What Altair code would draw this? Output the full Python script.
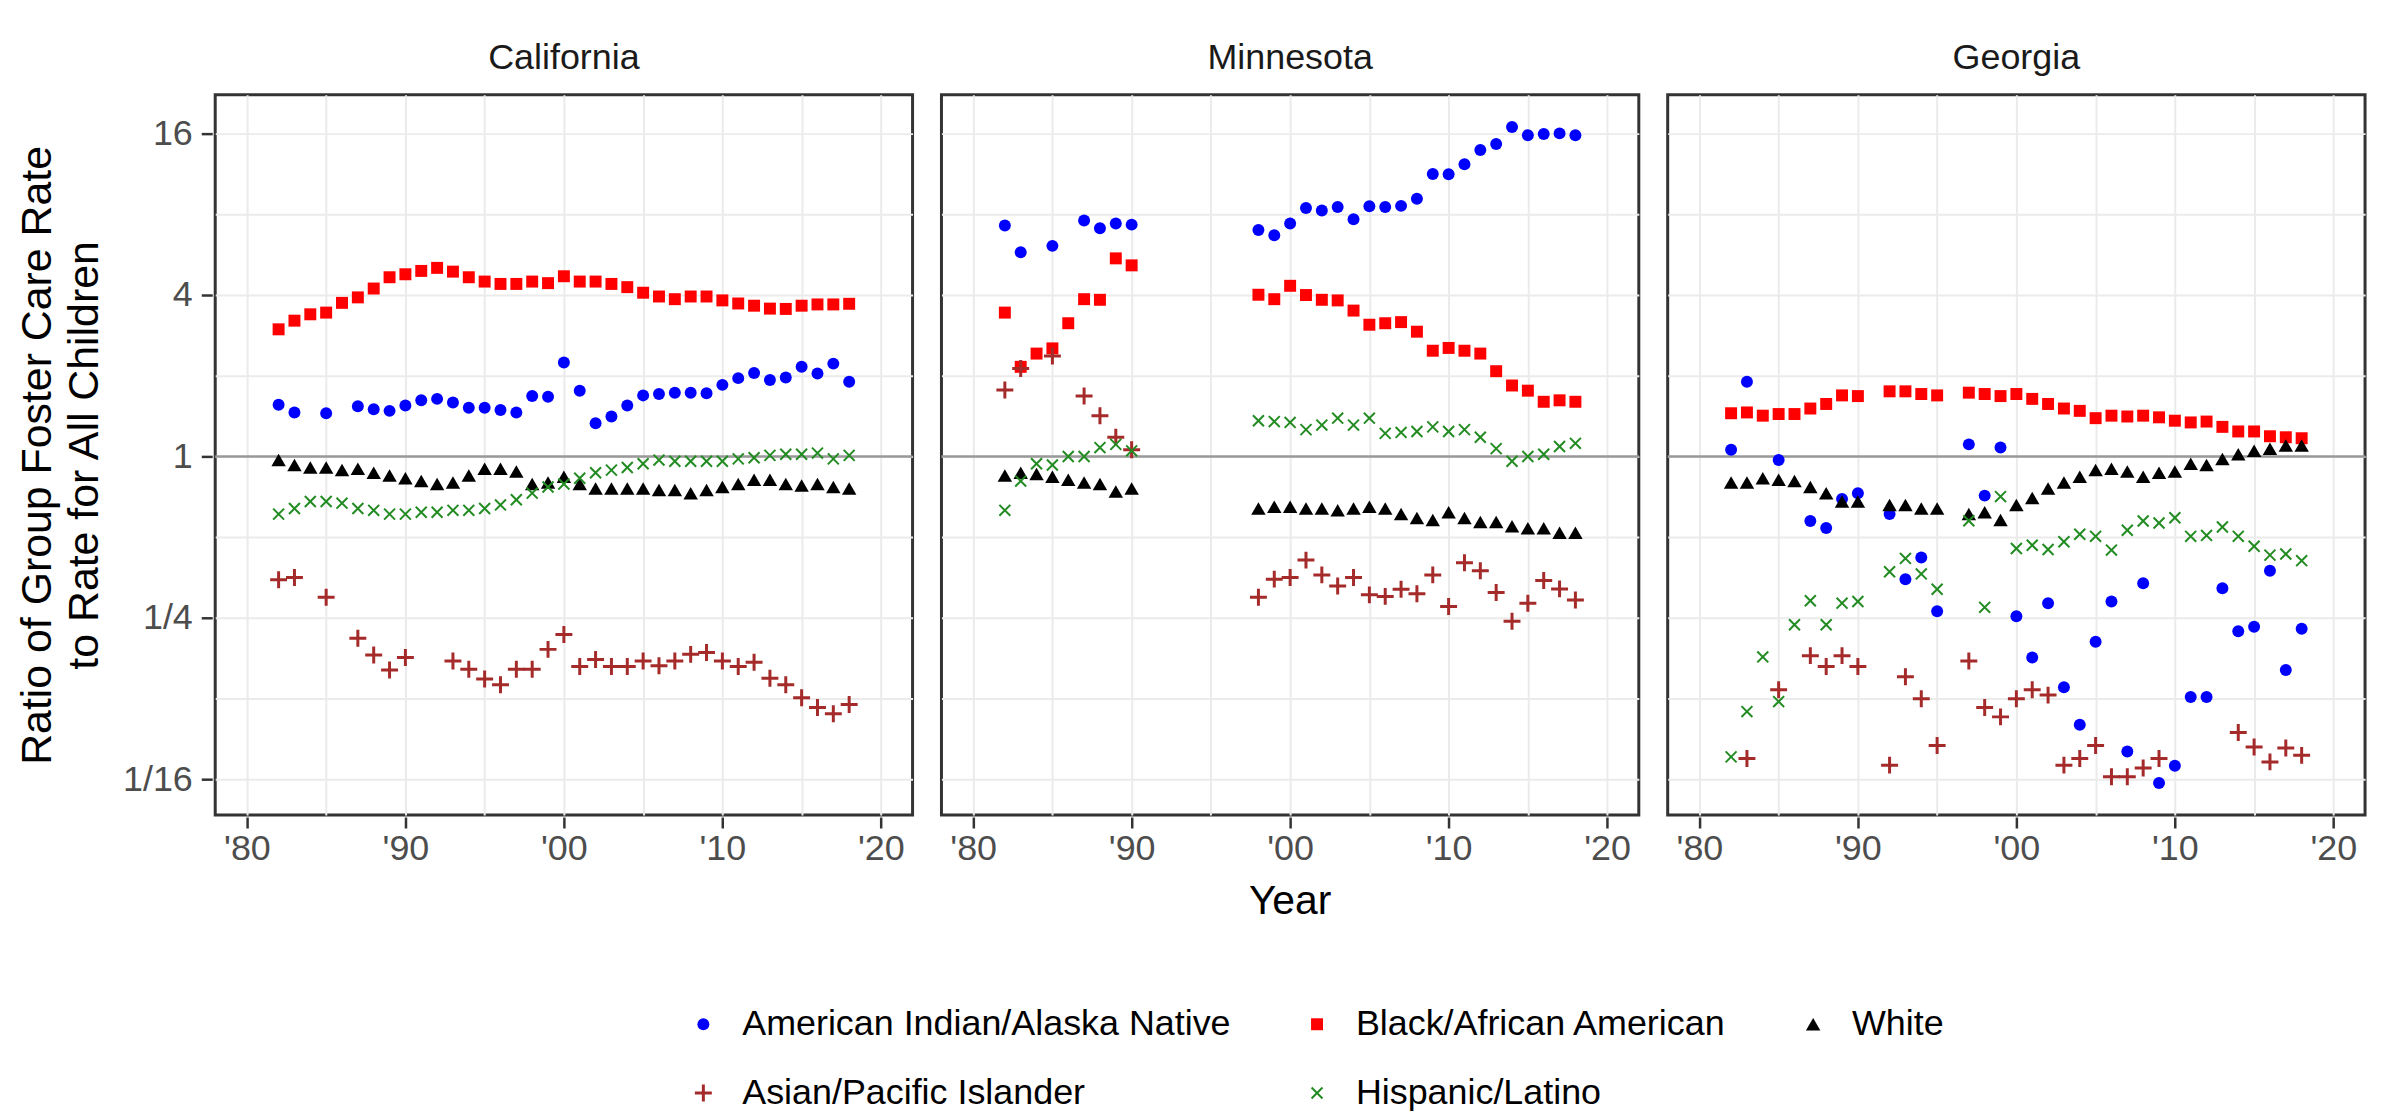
import altair as alt
import pandas as pd

N = None
YEARS = list(range(1982, 2019))
STATES = ["California", "Minnesota", "Georgia"]
GROUPS = ["American Indian/Alaska Native", "Black/African American", "White",
          "Asian/Pacific Islander", "Hispanic/Latino"]
COLORS = ["#0000FF", "#FF0000", "#000000", "#A52A2A", "#228B22"]

# ---- California (1982-2018) ----
CA_AIAN = [1.56, 1.46, N, 1.45, N, 1.54, 1.50, 1.48, 1.55, 1.62, 1.64, 1.59, 1.52, 1.52, 1.49, 1.46, 1.68, 1.67,
           2.24, 1.76, 1.33, 1.41, 1.55, 1.69, 1.71, 1.73, 1.73, 1.72, 1.85, 1.96, 2.05, 1.93, 1.97, 2.16, 2.04, 2.22, 1.90]
CA_BLACK = [2.98, 3.21, 3.39, 3.44, 3.74, 3.92, 4.23, 4.66, 4.78, 4.92, 5.05, 4.89, 4.66, 4.49, 4.40, 4.40, 4.49, 4.43,
            4.70, 4.49, 4.49, 4.40, 4.28, 4.08, 3.95, 3.86, 3.95, 3.95, 3.82, 3.72, 3.65, 3.56, 3.55, 3.65, 3.69, 3.69, 3.71]
CA_WHITE = [0.97, 0.93, 0.91, 0.91, 0.89, 0.90, 0.87, 0.85, 0.83, 0.81, 0.79, 0.80, 0.85, 0.90, 0.90, 0.88, 0.79, 0.80,
            0.84, 0.79, 0.76, 0.76, 0.76, 0.76, 0.75, 0.75, 0.73, 0.75, 0.77, 0.79, 0.82, 0.82, 0.79, 0.78, 0.79, 0.77, 0.76]
CA_ASIAN = [0.347, 0.354, N, 0.299, N, 0.210, 0.182, 0.160, 0.178, N, N, 0.173, 0.161, 0.148, 0.141, 0.161, 0.161, 0.191,
            0.217, 0.165, 0.175, 0.165, 0.165, 0.173, 0.166, 0.173, 0.183, 0.186, 0.173, 0.165, 0.171, 0.149, 0.141,
            0.126, 0.116, 0.110, 0.119]
CA_HISP = [0.61, 0.64, 0.68, 0.68, 0.67, 0.64, 0.63, 0.61, 0.61, 0.62, 0.62, 0.63, 0.63, 0.64, 0.66, 0.69, 0.73, 0.77,
           0.79, 0.83, 0.87, 0.89, 0.91, 0.94, 0.97, 0.96, 0.96, 0.96, 0.96, 0.98, 0.99, 1.01, 1.02, 1.02, 1.03, 0.98, 1.01]

# ---- Minnesota ----
GAP7 = [N] * 7
MN_AIAN = [7.27, 5.77, N, 6.10, N, 7.59, 7.10, 7.39, 7.32] + GAP7 + \
          [6.99, 6.68, 7.39, 8.45, 8.27, 8.52, 7.66, 8.57, 8.52, 8.60, 9.14, 11.3, 11.28, 12.29, 13.88, 14.62,
           16.93, 15.78, 15.93, 16.02, 15.78]
MN_BLACK = [3.44, 2.16, 2.42, 2.53, 3.14, 3.86, 3.84, 5.48, 5.16] + GAP7 + \
           [4.01, 3.86, 4.33, 4.00, 3.84, 3.82, 3.50, 3.10, 3.14, 3.17, 2.92, 2.48, 2.54, 2.48, 2.42, 2.08,
            1.84, 1.76, 1.60, 1.62, 1.60]
MN_WHITE = [0.85, 0.87, 0.86, 0.84, 0.82, 0.80, 0.79, 0.74, 0.76] + GAP7 + \
           [0.64, 0.65, 0.65, 0.64, 0.64, 0.63, 0.64, 0.65, 0.64, 0.61, 0.59, 0.58, 0.62, 0.59, 0.57, 0.57,
            0.55, 0.54, 0.54, 0.52, 0.52]
MN_ASIAN = [1.77, 2.13, N, 2.37, N, 1.68, 1.42, 1.18, 1.06] + GAP7 + \
           [0.299, 0.349, 0.354, 0.411, 0.362, 0.329, 0.354, 0.305, 0.301, 0.320, 0.308, 0.362, 0.276, 0.402,
            0.375, 0.311, 0.243, 0.284, 0.345, 0.321, 0.292]
MN_HISP = [0.63, 0.81, 0.94, 0.93, 1.00, 1.00, 1.08, 1.11, 1.05] + GAP7 + \
          [1.36, 1.35, 1.34, 1.26, 1.31, 1.39, 1.31, 1.39, 1.22, 1.23, 1.24, 1.29, 1.24, 1.26, 1.18, 1.07,
           0.96, 1.00, 1.02, 1.09, 1.12]

# ---- Georgia ----
GA_AIAN = [1.06, 1.90, N, 0.97, N, 0.575, 0.541, 0.695, 0.73, N, 0.61, 0.349, 0.420, 0.265, N, 1.11, 0.715, 1.08,
           0.254, 0.178, 0.284, 0.138, 0.100, 0.204, 0.288, 0.0795, 0.337, 0.0607, 0.0703, 0.127, 0.127, 0.323,
           0.223, 0.232, 0.375, 0.160, 0.228]
GA_BLACK = [1.45, 1.46, 1.42, 1.44, 1.44, 1.51, 1.57, 1.69, 1.68, N, 1.75, 1.75, 1.71, 1.69, N, 1.73, 1.71, 1.68,
            1.71, 1.64, 1.57, 1.51, 1.48, 1.39, 1.42, 1.41, 1.42, 1.40, 1.36, 1.34, 1.35, 1.29, 1.24, 1.24, 1.19,
            1.18, 1.17]
GA_WHITE = [0.80, 0.80, 0.83, 0.82, 0.81, 0.77, 0.73, 0.68, 0.68, N, 0.66, 0.66, 0.64, 0.64, N, 0.61, 0.62, 0.58,
            0.66, 0.70, 0.76, 0.80, 0.84, 0.89, 0.90, 0.88, 0.84, 0.87, 0.88, 0.94, 0.93, 0.98, 1.02, 1.05, 1.07,
            1.10, 1.10]
GA_ASIAN = [N, 0.0748, N, 0.135, N, 0.181, 0.165, 0.181, 0.165, N, 0.0707, 0.151, 0.125, 0.0837, N, 0.173, 0.116,
            0.107, 0.125, 0.135, 0.129, 0.0707, 0.0748, 0.0837, 0.0640, 0.0640, 0.0690, 0.0748, N, N, N, N,
            0.0935, 0.0826, 0.0727, 0.0819, 0.0769]
GA_HISP = [0.0759, 0.112, 0.179, 0.122, 0.236, 0.290, 0.236, 0.284, 0.288, N, 0.372, 0.417, 0.365, 0.320, N, 0.576,
           0.274, 0.709, 0.454, 0.467, 0.450, 0.481, 0.513, 0.504, 0.448, 0.531, 0.575, 0.565, 0.591, 0.504, 0.508,
           0.546, 0.504, 0.463, 0.429, 0.433, 0.409]

SERIES = {
    "California": [CA_AIAN, CA_BLACK, CA_WHITE, CA_ASIAN, CA_HISP],
    "Minnesota": [MN_AIAN, MN_BLACK, MN_WHITE, MN_ASIAN, MN_HISP],
    "Georgia": [GA_AIAN, GA_BLACK, GA_WHITE, GA_ASIAN, GA_HISP],
}

rows = []
for state in STATES:
    for group, vals in zip(GROUPS, SERIES[state]):
        for yr, v in zip(YEARS, vals):
            if v is not None:
                rows.append({"state": state, "group": group, "year": yr, "ratio": v})
df = pd.DataFrame(rows)

PLUS = "M-1,0L1,0M0,-1L0,1"
CROSS = "M-1,-1L1,1M1,-1L-1,1"
SHAPES = ["circle", "square", "triangle-up", PLUS, CROSS]
SIZES = [144, 144, 210, 289, 121]
STROKEW = [0, 0, 0, 3, 2]

FONT = "Liberation Sans"
X_TICKS = list(range(1980, 2021, 5))
Y_TICKS = [0.0625, 0.125, 0.25, 0.5, 1, 2, 4, 8, 16]
Y_MAJOR = "datum.value == 16 || datum.value == 4 || datum.value == 1 || datum.value == 0.25 || datum.value == 0.0625"

legend = alt.Legend(title=None, orient="none", legendX=472, legendY=915, direction="horizontal",
                    columns=3, labelFontSize=36, labelFont=FONT, labelColor="black", labelLimit=0,
                    labelOffset=21, columnPadding=68, rowPadding=33)

x_axis = alt.Axis(values=X_TICKS, title=None, grid=True, domain=False,
                  labelExpr="datum.value % 10 == 0 ? \"'\" + format(datum.value % 100, '02d') : ''",
                  tickOpacity={"condition": {"test": "datum.value % 10 == 0", "value": 1}, "value": 0},
                  labelOverlap=False, labelFlush=False, labelPadding=4)
y_axis = alt.Axis(values=Y_TICKS, grid=True, domain=False,
                  title=["Ratio of Group Foster Care Rate", "to Rate for All Children"],
                  titleFontSize=43, titleFontWeight="normal", titleColor="black", titleFont=FONT,
                  titleLineHeight=47, titlePadding=16,
                  labelExpr="datum.value == 16 ? '16' : datum.value == 4 ? '4' : datum.value == 1 ? '1' : "
                            "datum.value == 0.25 ? '1/4' : datum.value == 0.0625 ? '1/16' : ''",
                  tickOpacity={"condition": {"test": Y_MAJOR, "value": 1}, "value": 0},
                  labelOverlap=False, labelFlush=False, labelPadding=9)

base = alt.Chart(df)

ref = base.transform_filter(
    "datum.year == 2018 && datum.group == 'White'"
).mark_rule(color="#999999", strokeWidth=2.5).encode(y=alt.datum(1))

points = base.mark_point(filled=True, opacity=1).encode(
    x=alt.X("year:Q", scale=alt.Scale(domain=[1978, 2022], nice=False, zero=False), axis=x_axis),
    y=alt.Y("ratio:Q", scale=alt.Scale(type="log", base=2, domain=[2 ** -4.44, 2 ** 4.48], nice=False),
            axis=y_axis),
    color=alt.Color("group:N", scale=alt.Scale(domain=GROUPS, range=COLORS), legend=legend),
    stroke=alt.Stroke("group:N", scale=alt.Scale(domain=GROUPS, range=COLORS), legend=legend),
    shape=alt.Shape("group:N", scale=alt.Scale(domain=GROUPS, range=SHAPES), legend=legend),
    size=alt.Size("group:N", scale=alt.Scale(type="ordinal", domain=GROUPS, range=SIZES), legend=legend),
    strokeWidth=alt.StrokeWidth("group:N", scale=alt.Scale(type="ordinal", domain=GROUPS, range=STROKEW),
                                legend=legend),
)

chart = alt.layer(ref, points).properties(width=700, height=723).facet(
    column=alt.Column("state:N", sort=STATES,
                      header=alt.Header(title="Year", titleOrient="bottom", labelOrient="top",
                                        labelFontSize=36, labelFont=FONT, labelColor="#1A1A1A",
                                        labelPadding=16, titleFontSize=41, titleFont=FONT,
                                        titleColor="black", titleFontWeight="normal", titlePadding=5)),
    spacing=23,
).configure(
    font=FONT, padding={"left": 8, "top": 30, "right": 10, "bottom": 5}
).configure_view(
    stroke="#333333", strokeWidth=3, fill="white"
).configure_axis(
    gridColor="#EBEBEB", gridWidth=2, tickColor="#333333", tickWidth=2.5, tickSize=11,
    labelFontSize=36, labelColor="#4D4D4D", labelFont=FONT
)

chart.save("out.html", embed_options={"renderer": "svg", "actions": False})
